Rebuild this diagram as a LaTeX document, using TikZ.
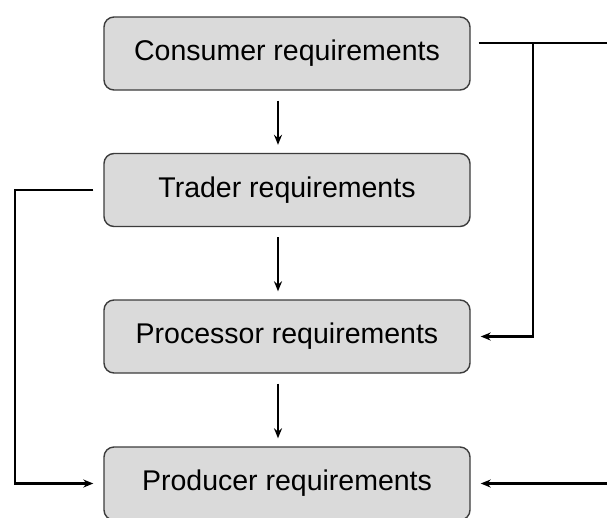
\documentclass[tikz,border=0pt]{standalone}
\usepackage{fontspec}
\setmainfont{Liberation Sans}
\usetikzlibrary{arrows.meta}
\definecolor{boxfill}{HTML}{DADADA}
\definecolor{boxdraw}{HTML}{3C3C3C}
\begin{document}
\begin{tikzpicture}[x=1pt,y=-1pt,
  reqbox/.style={draw=boxdraw,line width=1.4pt,fill=boxfill,rounded corners=10pt,
    minimum width=366pt,minimum height=73pt,inner sep=0pt,font=\fontsize{28.5}{31}\selectfont},
  conn/.style={line width=2.5pt,black},
  arr/.style={conn,-{Stealth[length=10pt,width=8pt]}}]
\useasboundingbox (0,0) rectangle (607,517);
\fill[white] (0,0) rectangle (607,517);
\node[reqbox] (cons) at (287,53.5) {Consumer requirements};
\node[reqbox] (trad) at (287,190) {Trader requirements};
\node[reqbox] (proc) at (287,336.5) {Processor requirements};
\node[reqbox] (prod) at (287,483.5) {Producer requirements};
\draw[arr,shorten <=10pt,shorten >=8pt] ([xshift=-9pt]cons.south) -- ([xshift=-9pt]trad.north);
\draw[arr,shorten <=10pt,shorten >=8pt] ([xshift=-9pt]trad.south) -- ([xshift=-9pt]proc.north);
\draw[arr,shorten <=10pt,shorten >=8pt] ([xshift=-9pt]proc.south) -- ([xshift=-9pt]prod.north);
\coordinate (topend) at (607,43);
\coordinate (jn) at (533,43);
\coordinate (botend) at (607,483.5);
\draw[conn,shorten <=8pt] ([yshift=10.5pt]cons.east) -- (topend);
\draw[arr,shorten >=10pt] (jn) |- (proc.east);
\draw[arr,shorten >=10pt] (botend) -- (prod.east);
\draw[arr,shorten <=10pt,shorten >=10pt] (trad.west) -| (15,337) |- (prod.west);
\end{tikzpicture}
\end{document}
